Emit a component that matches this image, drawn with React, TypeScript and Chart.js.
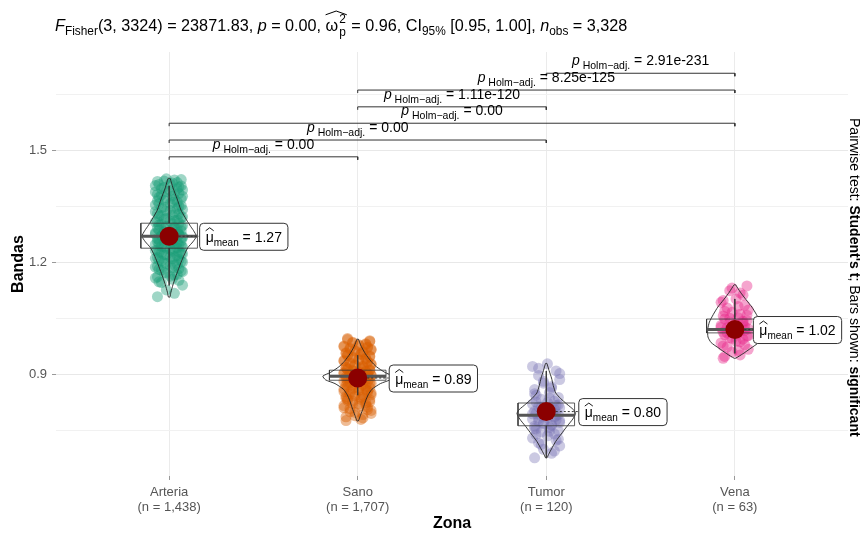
import React, { useEffect, useRef } from 'react';
import { Chart, registerables } from 'chart.js';
Chart.register(...registerables);

// ---------- data ----------
const CATEGORIES = ['Arteria', 'Sano', 'Tumor', 'Vena'];
const N_OBS = ['1,438', '1,707', '120', '63'];
const MEANS = [1.27, 0.89, 0.8, 1.02];
const MEAN_LABELS = ['1.27', '0.89', '0.80', '1.02'];
const Q1 = [1.238, 0.884, 0.762, 1.011];
const MEDIAN = [1.27, 0.895, 0.79, 1.02];
const Q3 = [1.305, 0.911, 0.823, 1.048];
const WHISKER_LO = [1.138, 0.844, 0.676, 0.956];
const WHISKER_HI = [1.405, 0.951, 0.909, 1.102];
const COLORS = ['#1B9E77', '#D95F02', '#7570B3', '#E7298A'];

const POINTS_ARTERIA = [
  1.108, 1.117, 1.126, 1.139, 1.146, 1.152, 1.158, 1.163, 1.168, 1.172, 1.177, 1.181, 1.185, 1.189,
  1.193, 1.197, 1.201, 1.204, 1.208, 1.211, 1.214, 1.218, 1.221, 1.224, 1.227, 1.23, 1.233, 1.236,
  1.238, 1.241, 1.243, 1.246, 1.248, 1.251, 1.253, 1.255, 1.258, 1.26, 1.262, 1.264, 1.266, 1.268,
  1.27, 1.272, 1.274, 1.276, 1.278, 1.28, 1.282, 1.285, 1.287, 1.289, 1.292, 1.294, 1.297, 1.299,
  1.302, 1.305, 1.308, 1.311, 1.314, 1.317, 1.32, 1.324, 1.327, 1.331, 1.334, 1.338, 1.342, 1.346,
  1.35, 1.354, 1.358, 1.362, 1.366, 1.37, 1.374, 1.378, 1.382, 1.386, 1.39, 1.394, 1.398, 1.402,
  1.406, 1.41, 1.414, 1.418, 1.422,
  1.148, 1.155, 1.161, 1.166, 1.171, 1.175, 1.179, 1.183, 1.187, 1.191, 1.195, 1.199, 1.203, 1.206,
  1.21, 1.213, 1.216, 1.22, 1.223, 1.226, 1.229, 1.232, 1.235, 1.239, 1.242, 1.245, 1.249, 1.252,
  1.256, 1.259, 1.263, 1.267, 1.271, 1.275, 1.279, 1.283, 1.288, 1.291, 1.295, 1.3, 1.304, 1.309,
  1.313, 1.318, 1.322, 1.326, 1.33, 1.336, 1.34, 1.344, 1.348, 1.352, 1.357, 1.361, 1.365, 1.369,
  1.373, 1.377, 1.381, 1.385, 1.389, 1.393, 1.397, 1.401, 1.405, 1.409, 1.413, 1.417, 1.421, 1.424,
];
const POINTS_SANO = [
  0.776, 0.783, 0.789, 0.795, 0.8, 0.805, 0.81, 0.814, 0.818, 0.822, 0.826, 0.83, 0.833, 0.836,
  0.839, 0.842, 0.845, 0.848, 0.851, 0.854, 0.857, 0.859, 0.862, 0.864, 0.866, 0.868, 0.87, 0.872,
  0.874, 0.876, 0.878, 0.88, 0.882, 0.884, 0.886, 0.887, 0.889, 0.89, 0.892, 0.893, 0.895, 0.896,
  0.898, 0.899, 0.901, 0.903, 0.905, 0.907, 0.909, 0.911, 0.913, 0.915, 0.918, 0.92, 0.923, 0.926,
  0.929, 0.932, 0.935, 0.938, 0.941, 0.944, 0.947, 0.95, 0.953, 0.956, 0.959, 0.962, 0.965, 0.968,
  0.971, 0.974, 0.977, 0.98, 0.984, 0.988, 0.993,
  0.779, 0.786, 0.792, 0.798, 0.803, 0.808, 0.812, 0.816, 0.82, 0.824, 0.828, 0.832, 0.835, 0.838,
  0.841, 0.844, 0.847, 0.85, 0.853, 0.856, 0.86, 0.863, 0.867, 0.871, 0.875, 0.879, 0.883, 0.888,
  0.891, 0.894, 0.897, 0.9, 0.902, 0.904, 0.906, 0.908, 0.91, 0.912, 0.914, 0.917, 0.919, 0.922,
  0.925, 0.928, 0.931, 0.934, 0.937, 0.94, 0.943, 0.946, 0.949, 0.952, 0.955, 0.958, 0.961, 0.964,
  0.967, 0.97, 0.973, 0.976, 0.979, 0.982, 0.986, 0.99, 0.996,
];
const POINTS_TUMOR = [
  0.676, 0.688, 0.699, 0.708, 0.716, 0.723, 0.729, 0.735, 0.74, 0.745, 0.749, 0.753, 0.757, 0.761,
  0.765, 0.768, 0.771, 0.774, 0.777, 0.78, 0.783, 0.786, 0.789, 0.792, 0.795, 0.798, 0.801, 0.804,
  0.807, 0.81, 0.813, 0.816, 0.82, 0.824, 0.828, 0.833, 0.838, 0.844, 0.851, 0.859, 0.867, 0.876,
  0.886, 0.897, 0.909, 0.921, 0.928,
  0.694, 0.712, 0.726, 0.738, 0.747, 0.755, 0.763, 0.77, 0.776, 0.782, 0.788, 0.794, 0.8, 0.806,
  0.812, 0.818, 0.826, 0.836, 0.848, 0.863, 0.881, 0.902, 0.916,
];
const POINTS_VENA = [
  0.943, 0.952, 0.96, 0.967, 0.973, 0.979, 0.984, 0.989, 0.994, 0.998, 1.002, 1.006, 1.01, 1.013,
  1.016, 1.019, 1.022, 1.025, 1.028, 1.031, 1.034, 1.037, 1.04, 1.044, 1.048, 1.052, 1.056, 1.061,
  1.066, 1.072, 1.078, 1.085, 1.093, 1.102, 1.112, 1.124, 1.137,
  0.948, 0.964, 0.976, 0.987, 0.996, 1.004, 1.011, 1.018, 1.026, 1.033, 1.042, 1.05, 1.058, 1.069,
  1.082, 1.098, 1.118, 1.131,
];

// violin profiles: [value, relative density]
const VIOLIN_ARTERIA: [number, number][] = [
  [1.425, 0.03], [1.4, 0.11], [1.37, 0.23], [1.34, 0.34], [1.32, 0.46], [1.3, 0.59], [1.285, 0.7],
  [1.27, 0.78], [1.255, 0.68], [1.24, 0.54], [1.22, 0.43], [1.2, 0.34], [1.18, 0.26], [1.16, 0.18],
  [1.14, 0.11], [1.12, 0.05], [1.107, 0.02],
];
const VIOLIN_SANO: [number, number][] = [
  [0.994, 0.02], [0.975, 0.1], [0.955, 0.22], [0.935, 0.38], [0.92, 0.54], [0.905, 0.78], [0.895, 1.0],
  [0.885, 0.92], [0.875, 0.65], [0.86, 0.41], [0.845, 0.3], [0.83, 0.23], [0.81, 0.16], [0.79, 0.08],
  [0.775, 0.02],
];
const VIOLIN_TUMOR: [number, number][] = [
  [0.929, 0.02], [0.91, 0.08], [0.89, 0.15], [0.87, 0.2], [0.85, 0.27], [0.835, 0.41], [0.82, 0.59],
  [0.805, 0.78], [0.795, 0.84], [0.78, 0.76], [0.76, 0.59], [0.74, 0.43], [0.72, 0.27], [0.7, 0.15],
  [0.685, 0.065], [0.676, 0.02],
];
const VIOLIN_VENA: [number, number][] = [
  [1.14, 0.02], [1.12, 0.16], [1.1, 0.32], [1.08, 0.49], [1.06, 0.62], [1.04, 0.73], [1.02, 0.78],
  [1.0, 0.77], [0.985, 0.68], [0.97, 0.46], [0.955, 0.23], [0.943, 0.02],
];

const Y_TICKS = [0.75, 0.9, 1.05, 1.2, 1.35, 1.5, 1.65];
const Y_LABELED = [0.9, 1.2, 1.5];

const BRACKET_PAIRS: [number, number][] = [[1, 2], [1, 3], [1, 4], [2, 3], [2, 4], [3, 4]];
const BRACKET_Y = [1.483, 1.528, 1.573, 1.617, 1.662, 1.707];
const P_LABELS = ['0.00', '0.00', '0.00', '1.11e-120', '8.25e-125', '2.91e-231'];

const F_DF = '3, 3324';
const F_VALUE = '23871.83';
const P_VALUE = '0.00';
const OMEGA = '0.96';
const CI = '[0.95, 1.00]';
const N_TOTAL = '3,328';

// ---------- layout / style ----------
const POINTS = [POINTS_ARTERIA, POINTS_SANO, POINTS_TUMOR, POINTS_VENA];
const VIOLINS = [VIOLIN_ARTERIA, VIOLIN_SANO, VIOLIN_TUMOR, VIOLIN_VENA];
const POINT_ALPHA = [0.42, 0.42, 0.38, 0.42];
const JITTER = [-0.062, 0.028, -0.015, 0.071, -0.041, 0.052, -0.073, 0.006, 0.043, -0.027, 0.064, -0.054, 0.017];
const VIOLIN_MAX_HW = 0.185;
const BOX_HW = 0.15;
const TIP = 0.008;
const LABEL_DX = [30, 31, 32, 18];
const FAMILY = '"Liberation Sans", Arial, sans-serif';

type Seg = { t: string; size: number; italic?: boolean; bold?: boolean; dy?: number };
const segFont = (s: Seg) => `${s.italic ? 'italic ' : ''}${s.bold ? 'bold ' : ''}${s.size}px ${FAMILY}`;
function segsWidth(ctx: CanvasRenderingContext2D, segs: Seg[]) {
  let w = 0;
  for (const s of segs) { ctx.font = segFont(s); w += ctx.measureText(s.t).width; }
  return w;
}
function drawSegs(ctx: CanvasRenderingContext2D, segs: Seg[], x: number, y: number) {
  let cx = x;
  for (const s of segs) {
    ctx.font = segFont(s);
    ctx.fillText(s.t, cx, y + (s.dy || 0));
    cx += ctx.measureText(s.t).width;
  }
  return cx;
}
const hexA = (hex: string, a: number) => {
  const n = parseInt(hex.slice(1), 16);
  return `rgba(${(n >> 16) & 255},${(n >> 8) & 255},${n & 255},${a})`;
};

function titleParts(k: number) {
  const S = 15 * k, s = 11 * k, d = 4 * k;
  const A: Seg[] = [
    { t: 'F', size: S, italic: true }, { t: 'Fisher', size: s, dy: d },
    { t: `(${F_DF}) = ${F_VALUE}, `, size: S }, { t: 'p', size: S, italic: true },
    { t: ` = ${P_VALUE}, `, size: S },
  ];
  const W: Seg[] = [{ t: 'ω', size: S }];
  const B: Seg[] = [
    { t: ` = ${OMEGA}, CI`, size: S }, { t: '95%', size: s, dy: d },
    { t: ` ${CI}, `, size: S }, { t: 'n', size: S, italic: true }, { t: 'obs', size: s, dy: d },
    { t: ` = ${N_TOTAL}`, size: S },
  ];
  return { A, W, B, S, s, d };
}

function drawTitle(ctx: CanvasRenderingContext2D, x0: number, y: number, targetW: number) {
  const measure = (k: number) => {
    const p = titleParts(k);
    ctx.font = segFont({ t: '2', size: p.s });
    const st = Math.max(ctx.measureText('2').width, ctx.measureText('p').width);
    return segsWidth(ctx, p.A) + segsWidth(ctx, p.W) + st + 2 + segsWidth(ctx, p.B);
  };
  const k = targetW / measure(1);
  const p = titleParts(k);
  ctx.fillStyle = '#000';
  ctx.textBaseline = 'alphabetic';
  ctx.textAlign = 'left';
  let x = drawSegs(ctx, p.A, x0, y);
  const wx = x;
  x = drawSegs(ctx, p.W, x, y) + 1;
  ctx.font = segFont({ t: '2', size: p.s });
  ctx.fillText('2', x, y - 7 * k);
  ctx.fillText('p', x, y + 5 * k);
  const st = Math.max(ctx.measureText('2').width, ctx.measureText('p').width);
  const hatEnd = x + st + 1;
  ctx.strokeStyle = '#000';
  ctx.lineWidth = 1;
  ctx.beginPath();
  ctx.moveTo(wx, y - 15 * k);
  ctx.lineTo((wx + hatEnd) / 2, y - 18.5 * k);
  ctx.lineTo(hatEnd, y - 15 * k);
  ctx.stroke();
  x = x + st + 1;
  drawSegs(ctx, p.B, x, y);
}

const overlayPlugin = {
  id: 'overlay',
  afterDatasetsDraw(chart: any) {
    const ctx: CanvasRenderingContext2D = chart.ctx;
    const xs = chart.scales.x, ys = chart.scales.y;
    ctx.save();
    // mean labels
    MEANS.forEach((m, i) => {
      const px = xs.getPixelForValue(i + 1);
      const py = ys.getPixelForValue(m);
      const segs: Seg[] = [
        { t: 'μ', size: 14 }, { t: 'mean', size: 10, dy: 4 }, { t: ` = ${MEAN_LABELS[i]}`, size: 14 },
      ];
      const w = segsWidth(ctx, segs) + 12;
      const bx = px + LABEL_DX[i];
      const h = 27;
      ctx.setLineDash([2, 2]);
      ctx.strokeStyle = '#333';
      ctx.lineWidth = 1;
      ctx.beginPath();
      ctx.moveTo(px + 9.5, py);
      ctx.lineTo(bx, py);
      ctx.stroke();
      ctx.setLineDash([]);
      ctx.beginPath();
      (ctx as any).roundRect(bx + 0.5, py - h / 2 + 0.5, w, h, 4);
      ctx.fillStyle = '#fff';
      ctx.fill();
      ctx.strokeStyle = '#333';
      ctx.stroke();
      ctx.fillStyle = '#000';
      ctx.textAlign = 'left';
      ctx.textBaseline = 'alphabetic';
      const tx = bx + 6.5, ty = py + 5.5;
      drawSegs(ctx, segs, tx, ty);
      ctx.font = segFont(segs[0]);
      const mw = ctx.measureText('μ').width;
      ctx.lineWidth = 0.9;
      ctx.strokeStyle = '#000';
      ctx.beginPath();
      ctx.moveTo(tx, ty - 11);
      ctx.lineTo(tx + mw / 2, ty - 14);
      ctx.lineTo(tx + mw, ty - 11);
      ctx.stroke();
    });
    // bracket labels
    BRACKET_PAIRS.forEach(([a, b], i) => {
      const cx = (xs.getPixelForValue(a) + xs.getPixelForValue(b)) / 2;
      const by = ys.getPixelForValue(BRACKET_Y[i]) - 8;
      const segs: Seg[] = [
        { t: 'p', size: 14, italic: true }, { t: ' Holm−adj.', size: 10.5, dy: 4 },
        { t: ` = ${P_LABELS[i]}`, size: 14 },
      ];
      const w = segsWidth(ctx, segs);
      ctx.fillStyle = '#000';
      ctx.textAlign = 'left';
      ctx.textBaseline = 'alphabetic';
      drawSegs(ctx, segs, cx - w / 2, by);
    });
    ctx.restore();
  },
  afterDraw(chart: any) {
    const ctx: CanvasRenderingContext2D = chart.ctx;
    ctx.save();
    drawTitle(ctx, chart.chartArea.left - 1, 31, 573);
    // caption (rotated)
    const cap: Seg[] = [
      { t: 'Pairwise test: ', size: 13 }, { t: "Student's t", size: 13, bold: true },
      { t: '; Bars shown: ', size: 13 }, { t: 'significant', size: 13, bold: true },
    ];
    const cw = segsWidth(ctx, cap);
    const k = 319 / cw;
    const capK = cap.map((s) => ({ ...s, size: s.size * k }));
    ctx.translate(850, 118);
    ctx.rotate(Math.PI / 2);
    ctx.fillStyle = '#000';
    ctx.textAlign = 'left';
    ctx.textBaseline = 'alphabetic';
    drawSegs(ctx, capK, 0, 0);
    ctx.restore();
  },
};

export default function App() {
  const ref = useRef<HTMLCanvasElement | null>(null);
  useEffect(() => {
    if (!ref.current) return;
    const layers: any[] = [];
    // jittered points
    POINTS.forEach((arr, i) => {
      layers.push({
        data: arr.map((y, k) => ({ x: i + 1 + JITTER[k % JITTER.length], y })),
        pointRadius: 5.5,
        pointBackgroundColor: hexA(COLORS[i], POINT_ALPHA[i]),
        pointBorderWidth: 0,
        showLine: false,
      });
    });
    const line = (data: { x: number; y: number }[], color = '#333', width = 0.8, extra: any = {}) => ({
      data, showLine: true, borderColor: color, borderWidth: width, pointRadius: 0, fill: false, ...extra,
    });
    // violins
    VIOLINS.forEach((prof, i) => {
      const c = i + 1;
      const right = prof.map(([y, d]) => ({ x: c + d * VIOLIN_MAX_HW, y }));
      const left = prof.slice().reverse().map(([y, d]) => ({ x: c - d * VIOLIN_MAX_HW, y }));
      layers.push(line([...right, ...left, right[0]], '#222', 0.9, { tension: 0.2 }));
    });
    // boxplots
    CATEGORIES.forEach((_, i) => {
      const c = i + 1;
      layers.push(line([{ x: c, y: WHISKER_HI[i] }, { x: c, y: Q3[i] }], '#333', 0.8));
      layers.push(line([{ x: c, y: Q1[i] }, { x: c, y: WHISKER_LO[i] }], '#333', 0.8));
      layers.push(line([
        { x: c - BOX_HW, y: Q1[i] }, { x: c + BOX_HW, y: Q1[i] }, { x: c + BOX_HW, y: Q3[i] },
        { x: c - BOX_HW, y: Q3[i] }, { x: c - BOX_HW, y: Q1[i] },
      ], '#333', 0.8));
      layers.push(line([{ x: c - BOX_HW, y: MEDIAN[i] }, { x: c + BOX_HW, y: MEDIAN[i] }], '#555', 3));
    });
    // means
    layers.push({
      data: MEANS.map((m, i) => ({ x: i + 1, y: m })),
      pointRadius: 9.5,
      pointBackgroundColor: '#8B0000',
      pointBorderWidth: 0,
      showLine: false,
    });
    // brackets
    BRACKET_PAIRS.forEach(([a, b], i) => {
      const y = BRACKET_Y[i];
      layers.push(line([{ x: a, y: y - TIP }, { x: a, y }, { x: b, y }, { x: b, y: y - TIP }], '#333', 1));
    });
    const n = layers.length;
    layers.forEach((d, idx) => { d.order = n - idx; });

    const isLabeled = (v: number) => Y_LABELED.some((t) => Math.abs(t - v) < 1e-6);
    const chart = new Chart(ref.current, {
      type: 'scatter',
      data: { datasets: layers },
      options: {
        animation: false,
        responsive: false,
        devicePixelRatio: 1,
        events: [],
        layout: { padding: { top: 52, right: 12, left: 0, bottom: 0 } },
        plugins: { legend: { display: false }, tooltip: { enabled: false }, title: { display: false } },
        scales: {
          x: {
            type: 'linear',
            min: 0.4,
            max: 4.6,
            afterFit: (s: any) => { s.height = 57; },
            afterBuildTicks: (s: any) => { s.ticks = CATEGORIES.map((_, i) => ({ value: i + 1 })); },
            ticks: {
              autoSkip: false,
              maxRotation: 0,
              padding: 4.5,
              color: '#555',
              font: { size: 13, family: FAMILY, lineHeight: 1.15 },
              callback: (v: any) => {
                const i = Math.round(Number(v)) - 1;
                return [CATEGORIES[i], `(n = ${N_OBS[i]})`];
              },
            },
            grid: { color: '#EBEBEB', lineWidth: 1, drawTicks: true, tickLength: 4, tickColor: '#999' },
            border: { display: false },
            title: {
              display: true, text: 'Zona', color: '#000',
              font: { size: 16, weight: 'bold', family: FAMILY }, padding: { top: 0, bottom: 0 },
            },
          },
          y: {
            type: 'linear',
            min: 0.6273,
            max: 1.764,
            afterFit: (s: any) => { s.width = 56; },
            afterBuildTicks: (s: any) => { s.ticks = Y_TICKS.map((v) => ({ value: v })); },
            ticks: {
              padding: 5,
              color: '#555',
              font: { size: 13, family: FAMILY },
              callback: (v: any) => (isLabeled(Number(v)) ? Number(v).toFixed(1) : ''),
            },
            grid: {
              color: (c: any) => (c.tick && isLabeled(c.tick.value) ? '#E8E8E8' : '#F1F1F1'),
              lineWidth: 1,
              drawTicks: true,
              tickLength: 4,
              tickColor: (c: any) => (c.tick && isLabeled(c.tick.value) ? '#999' : 'rgba(0,0,0,0)'),
            },
            border: { display: false },
            title: {
              display: true, text: 'Bandas', color: '#000',
              font: { size: 16, weight: 'bold', family: FAMILY }, padding: { top: 9, bottom: 0 },
            },
          },
        },
      } as any,
      plugins: [overlayPlugin],
    });
    return () => chart.destroy();
  }, []);
  return (
    <div style={{ position: 'fixed', left: 0, top: 0, width: 860, height: 533, background: '#fff' }}>
      <canvas ref={ref} width={860} height={533} style={{ display: 'block' }} />
    </div>
  );
}
